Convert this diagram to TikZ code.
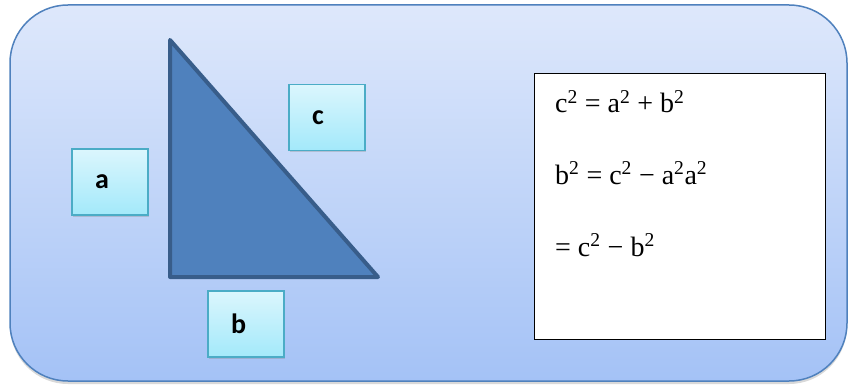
\documentclass[tikz,border=0pt]{standalone}
\usepackage{fontspec}
\setmainfont{Liberation Serif}
\newfontfamily\lettfont{Carlito}
\usepackage{tikz}
\usetikzlibrary{calc, shadows, positioning}

\definecolor{cornice}{RGB}{79,129,189}
\definecolor{fondosu}{RGB}{222,232,251}
\definecolor{fondogiu}{RGB}{164,194,246}
\definecolor{triang}{RGB}{79,129,189}
\definecolor{triangbordo}{RGB}{56,93,138}
\definecolor{boxsu}{RGB}{219,246,253}
\definecolor{boxgiu}{RGB}{163,233,250}
\definecolor{boxbordo}{RGB}{75,172,198}

\begin{document}
\begin{tikzpicture}[x=1pt, y=-1pt,
  lato/.style={draw=boxbordo, line width=1.5pt, top color=boxsu, bottom color=boxgiu,
    minimum height=66pt, text width=30pt, inner xsep=23pt, inner ysep=0pt, align=left,
    font=\lettfont\bfseries\fontsize{28}{28}\selectfont,
    drop shadow={opacity=0.3, shadow xshift=1pt, shadow yshift=-2pt}},
  formula/.style={anchor=base west, inner sep=0pt, font=\fontsize{28}{28}\selectfont}]
  \useasboundingbox (0,0) rectangle (849,385);

  % riquadro di fondo
  \draw[draw=cornice, line width=1.5pt, rounded corners=58pt, top color=fondosu, bottom color=fondogiu,
    drop shadow={opacity=0.3, shadow xshift=0pt, shadow yshift=-3pt}] (10,5) rectangle (847,381);

  % vertici del triangolo
  \coordinate (T) at (170,40);
  \coordinate (BL) at (170,277);
  \coordinate (BR) at (378,277);

  % triangolo
  \draw[draw=triangbordo, fill=triang, line width=4pt, line join=round] (T) -- (BL) -- (BR) -- cycle;

  % etichette lati
  \node[lato] (latoc) at (327,117.5) {c};
  \node[lato] (latoa) at (110,182) {a};
  \node[lato] (latob) at (246,324) {b};

  % riquadro formule
  \node[draw, line width=1pt, fill=white, minimum width=291pt, minimum height=265pt, inner sep=0pt] (eqbox) at (679.5,206.5) {};
  \node[formula] (eq1) at (555,113) {c\textsuperscript{2} = a\textsuperscript{2} + b\textsuperscript{2}};
  \node[formula] (eq2) at (555,184) {b\textsuperscript{2} = c\textsuperscript{2} − a\textsuperscript{2}a\textsuperscript{2}};
  \node[formula] (eq3) at (555,256) {= c\textsuperscript{2} − b\textsuperscript{2}};
\end{tikzpicture}
\end{document}
